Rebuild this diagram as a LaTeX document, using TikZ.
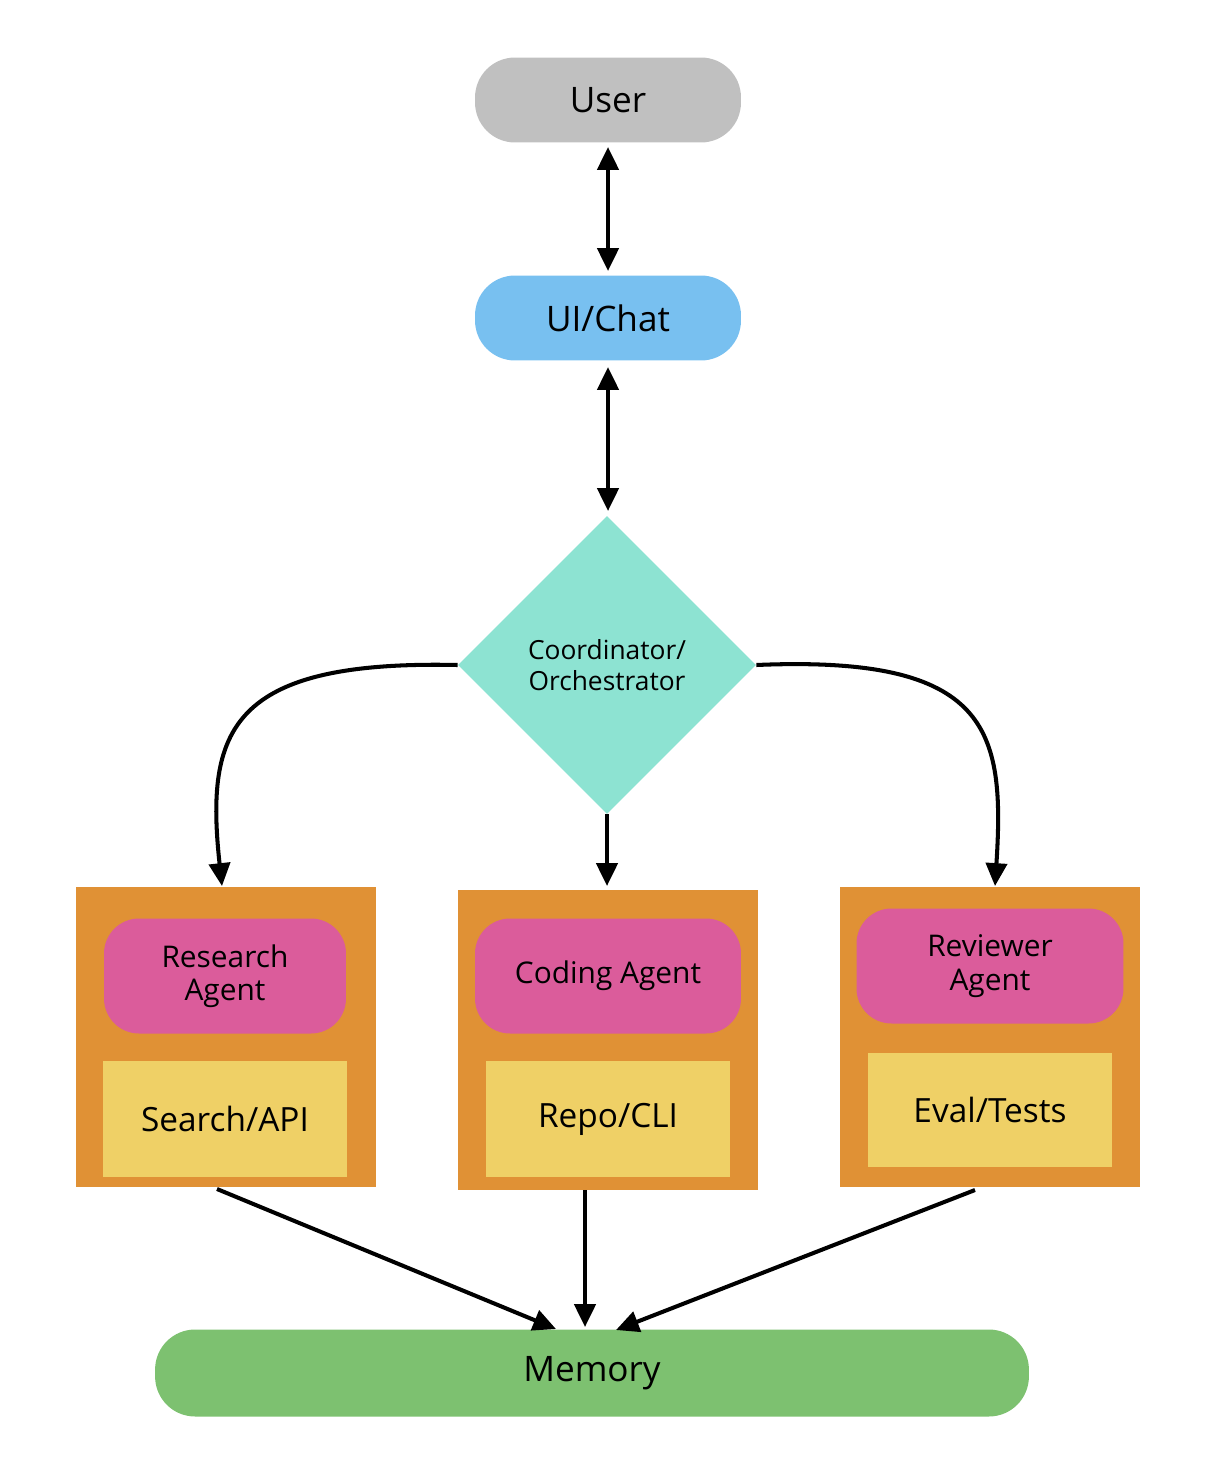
\documentclass[tikz,border=0pt]{standalone}
\usepackage{fontspec}
\setmainfont{Open Sans}
\usetikzlibrary{arrows.meta,shapes.geometric}
\definecolor{cuser}{HTML}{C0C0C0}
\definecolor{cui}{HTML}{78C0F0}
\definecolor{cdia}{HTML}{8DE3D2}
\definecolor{corg}{HTML}{E09135}
\definecolor{cpink}{HTML}{DB5C9B}
\definecolor{cyel}{HTML}{EFD066}
\definecolor{cmem}{HTML}{7DC170}
\begin{document}
\begin{tikzpicture}[x=0.02cm,y=-0.02cm,
  pill/.style={rounded corners=0.8cm,inner sep=0pt,align=center,font=\fontsize{20}{23}\selectfont},
  orng/.style={fill=corg,inner sep=0pt},
  agent/.style={fill=cpink,rounded corners=0.7cm,inner sep=0pt,align=center,font=\fontsize{17}{19}\selectfont},
  tool/.style={fill=cyel,inner sep=0pt,font=\fontsize{19}{22}\selectfont},
  arr/.style={line width=2.3pt,-{Triangle[length=13pt,width=12pt]}},
  darr/.style={line width=2.3pt,{Triangle[length=13pt,width=12pt]}-{Triangle[length=13pt,width=12pt]}}]
\useasboundingbox (0,0) rectangle (1226,1460);
\node[pill,fill=cuser,minimum width=5.32cm,minimum height=1.7cm] (user) at (608,100) {User};
\node[pill,fill=cui,minimum width=5.32cm,minimum height=1.7cm] (ui) at (608,318) {UI/Chat};
\node[diamond,fill=cdia,minimum width=5.96cm,minimum height=5.96cm,inner sep=0pt,align=center,font=\fontsize{15}{18}\selectfont] (co) at (607,665) {Coordinator/\\Orchestrator};
\node[orng,minimum width=6cm,minimum height=6cm] (lo) at (226,1037) {};
\node[orng,minimum width=6cm,minimum height=6cm] (mo) at (608,1040) {};
\node[orng,minimum width=6cm,minimum height=6cm] (ro) at (990,1037) {};
\node[agent,minimum width=4.84cm,minimum height=2.3cm] (ra) at (225,976) {Research\\Agent};
\node[agent,minimum width=5.32cm,minimum height=2.3cm] (ca) at (608,976) {Coding Agent};
\node[agent,minimum width=5.34cm,minimum height=2.3cm] (va) at (990,966) {Reviewer\\Agent};
\node[tool,minimum width=4.9cm,minimum height=2.32cm] (st) at (225,1119) {Search/API};
\node[tool,minimum width=4.9cm,minimum height=2.32cm] (rt) at (608,1119) {Repo/CLI};
\node[tool,minimum width=4.9cm,minimum height=2.28cm] (et) at (990,1110) {Eval/Tests};
\node[pill,fill=cmem,minimum width=17.48cm,minimum height=1.74cm] (mem) at (592,1373) {Memory};
\coordinate (u1) at (608,147); \coordinate (u2) at (608,271);
\coordinate (c1) at (608,367); \coordinate (c2) at (608,511);
\draw[darr] (u1) -- (u2);
\draw[darr] (c1) -- (c2);
\coordinate (lt) at (222,886); \coordinate (rt2) at (995,886); \coordinate (mt) at (607,886);
\draw[arr] (co.west) .. controls (230,660) and (205,730) .. (lt);
\draw[arr] (co.east) .. controls (990,655) and (1005,730) .. (rt2);
\draw[arr] (co.south) -- (mt);
\coordinate (l1) at (217,1189); \coordinate (l2) at (556,1329);
\coordinate (m1) at (585,1190); \coordinate (m2) at (585,1327);
\coordinate (r1) at (975,1190); \coordinate (r2) at (616,1330);
\draw[arr] (l1) -- (l2);
\draw[arr] (m1) -- (m2);
\draw[arr] (r1) -- (r2);
\end{tikzpicture}
\end{document}
